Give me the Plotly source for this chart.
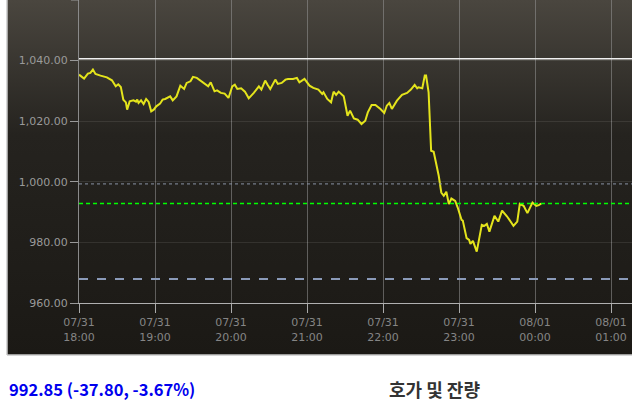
import base64
from datetime import datetime, timedelta
import plotly.graph_objects as go

# ---- data ----
times = ["18:00","18:04","18:07","18:09","18:11","18:13","18:17","18:22","18:26","18:29",
         "18:31","18:33","18:35","18:37","18:38","18:40","18:43","18:45","18:46","18:47",
         "18:49","18:51","18:53","18:55","18:57","18:59","19:01","19:04","19:06","19:08",
         "19:12","19:14","19:17","19:20","19:23","19:25","19:28","19:30","19:33","19:35",
         "19:39","19:42","19:44","19:47","19:49","19:52","19:55","19:58","20:01","20:03",
         "20:05","20:08","20:11","20:14","20:18","20:22","20:24","20:27","20:29","20:31",
         "20:35","20:37","20:40","20:43","20:45","20:49","20:52","20:54","20:58","21:02",
         "21:05","21:09","21:12","21:13","21:16","21:19","21:21","21:23","21:25","21:29",
         "21:32","21:34","21:37","21:40","21:43","21:46","21:48","21:51","21:54","21:58",
         "22:01","22:03","22:05","22:07","22:11","22:15","22:19","22:22","22:25","22:27",
         "22:28","22:31","22:33","22:34","22:36","22:38","22:40","22:44","22:46","22:48",
         "22:50","22:52","22:54","22:57","22:59","23:02","23:03","23:06","23:08","23:09",
         "23:11","23:14","23:18","23:20","23:22","23:24","23:28","23:31","23:34","23:38",
         "23:43","23:46","23:48","23:51","23:54","23:58","00:01","00:03","00:05"]
prices = [1035.37,1034.05,1035.71,1035.94,1037.03,1035.61,1035.05,1034.48,1033.49,1031.51,
          1032.17,1031.31,1027.11,1026.22,1023.81,1026.55,1026.88,1026.45,1027.11,1026.02,
          1026.88,1025.69,1027.34,1026.35,1023.24,1023.81,1024.90,1025.79,1027.11,1027.34,
          1028.20,1026.88,1028.20,1031.74,1030.65,1032.63,1033.16,1034.62,1034.29,1033.72,
          1032.63,1031.51,1032.83,1029.86,1030.19,1029.33,1029.10,1027.67,1031.51,1032.07,
          1030.65,1030.85,1029.76,1027.54,1029.33,1031.51,1030.42,1033.39,1031.97,1030.65,
          1033.72,1032.30,1032.63,1033.72,1033.95,1033.95,1034.29,1032.83,1033.95,1031.74,
          1030.98,1030.42,1029.00,1029.53,1027.34,1026.22,1029.76,1028.67,1029.76,1028.20,
          1021.82,1023.48,1020.93,1020.50,1019.08,1020.17,1022.91,1025.36,1025.36,1024.04,
          1022.72,1025.13,1026.02,1024.04,1026.78,1028.67,1029.33,1030.42,1031.97,1030.85,
          1031.18,1030.85,1035.05,1035.05,1029.53,1010.25,1009.92,1001.99,996.47,995.37,
          996.70,992.63,994.48,993.72,991.50,987.44,987.21,981.39,980.83,979.51,
          980.50,976.96,985.79,985.46,986.12,983.57,988.76,986.88,990.51,988.53,
          985.46,986.88,992.73,992.07,989.65,993.16,992.07,992.30,992.85]

tick_hours = ["18:00","19:00","20:00","21:00","22:00","23:00","00:00","01:00"]
tick_dates = ["07/31","07/31","07/31","07/31","07/31","07/31","08/01","08/01"]
y_ticks = [960, 980, 1000, 1020, 1040]

high_line = 1040.6
prev_line = 999.3
current_line = 992.85
low_line = 967.9

summary_text = "992.85 (-37.80, -3.67%)"
side_title = "호가 및 잔량"

# ---- helpers ----
base = datetime(2024, 7, 31)
def to_dt(hm):
    h, m = map(int, hm.split(":"))
    d = base + timedelta(hours=h, minutes=m)
    if h < 12:
        d += timedelta(days=1)
    return d

xs = [to_dt(t) for t in times]
tickvals = [to_dt(t) for t in tick_hours]
ticktext = [f"{d}<br>{h}" for d, h in zip(tick_dates, tick_hours)]

W, H = 632, 409
ml, mr, mt, mb = 79, 0, 0, 106
pw, ph = W - ml - mr, H - mt - mb
x_start = to_dt("18:00")
x_end = x_start + timedelta(hours=pw / 76.0)

fig = go.Figure()
fig.add_trace(go.Scatter(x=xs, y=prices, mode="lines",
                         line=dict(color="#e4e41c", width=2), hoverinfo="skip",
                         showlegend=False))

# background gradient box
svg = ('<svg xmlns="http://www.w3.org/2000/svg" width="100" height="100" preserveAspectRatio="none">'
       '<defs><linearGradient id="g" x1="0" y1="0" x2="0" y2="1">'
       '<stop offset="0" stop-color="#4a463f"/><stop offset="0.38" stop-color="#25231f"/>'
       '<stop offset="1" stop-color="#1b1915"/></linearGradient></defs>'
       '<rect width="100" height="100" fill="url(#g)"/></svg>')
src = "data:image/svg+xml;base64," + base64.b64encode(svg.encode()).decode()
box_left = (7 - ml) / pw
box_bottom = -(355 - mt - ph) / ph
fig.add_layout_image(dict(source=src, xref="paper", yref="paper", x=box_left, y=1,
                          sizex=1 - box_left, sizey=1 - box_bottom, sizing="stretch",
                          xanchor="left", yanchor="top", layer="below"))

shapes = [
    dict(type="line", xref="paper", yref="paper", x0=box_left, x1=box_left, y0=box_bottom, y1=1,
         line=dict(color="#c8c8c8", width=1.5)),
    dict(type="line", xref="paper", yref="paper", x0=box_left, x1=1, y0=box_bottom, y1=box_bottom,
         line=dict(color="#c8c8c8", width=1.5)),
    dict(type="line", xref="paper", yref="y", x0=0, x1=1, y0=high_line, y1=high_line,
         line=dict(color="#f0f0f0", width=1.5)),
    dict(type="line", xref="paper", yref="y", x0=0, x1=1, y0=prev_line, y1=prev_line,
         line=dict(color="#8a94a6", width=1, dash="dot")),
    dict(type="line", xref="paper", yref="y", x0=0, x1=1, y0=current_line, y1=current_line,
         line=dict(color="#00ff00", width=1.6, dash="4px,3px")),
    dict(type="line", xref="paper", yref="y", x0=0, x1=1, y0=low_line, y1=low_line,
         line=dict(color="#8a9ab8", width=2, dash="dash")),
    dict(type="line", xref="paper", yref="paper", x0=-8 / pw, x1=0, y0=1, y1=1,
         line=dict(color="#999", width=1)),
]
fig.update_layout(shapes=shapes)

fig.add_annotation(text=f"<b>{summary_text}</b>", xref="paper", yref="paper",
                   x=box_left, y=-(389 - ph) / ph, xanchor="left", yanchor="middle",
                   showarrow=False,
                   font=dict(family="Noto Sans CJK KR", size=16.5, color="#0000ee"))
fig.add_annotation(text=f"<b>{side_title}</b>", xref="paper", yref="paper",
                   x=(434 - ml) / pw, y=-(389 - ph) / ph, xanchor="center", yanchor="middle",
                   showarrow=False,
                   font=dict(family="Noto Sans CJK KR", size=18, color="#333333"))

fig.update_layout(
    width=W, height=H,
    margin=dict(l=ml, r=mr, t=mt, b=mb, pad=0),
    paper_bgcolor="white", plot_bgcolor="rgba(0,0,0,0)",
    font=dict(family="DejaVu Sans", size=11, color="#999"),
    xaxis=dict(range=[x_start, x_end], tickmode="array", tickvals=tickvals, ticktext=ticktext,
               showgrid=True, gridcolor="rgba(150,150,150,0.55)", gridwidth=1,
               ticks="outside", ticklen=9, tickcolor="#aaaaaa",
               showline=True, linecolor="#b0b0b0", linewidth=1,
               tickfont=dict(family="DejaVu Sans", size=11, color="#858585"),
               zeroline=False, fixedrange=True),
    yaxis=dict(range=[960, 1060], tickmode="array", tickvals=y_ticks, tickformat=",.2f",
               showgrid=True, gridcolor="rgba(255,255,255,0.09)", gridwidth=1,
               ticks="outside", ticklen=8, tickcolor="#999999",
               showline=True, linecolor="#8a8a8a", linewidth=1,
               tickfont=dict(family="DejaVu Sans", size=11, color="#9a9a9a"),
               zeroline=False, fixedrange=True),
)

fig.write_html("out.html")
